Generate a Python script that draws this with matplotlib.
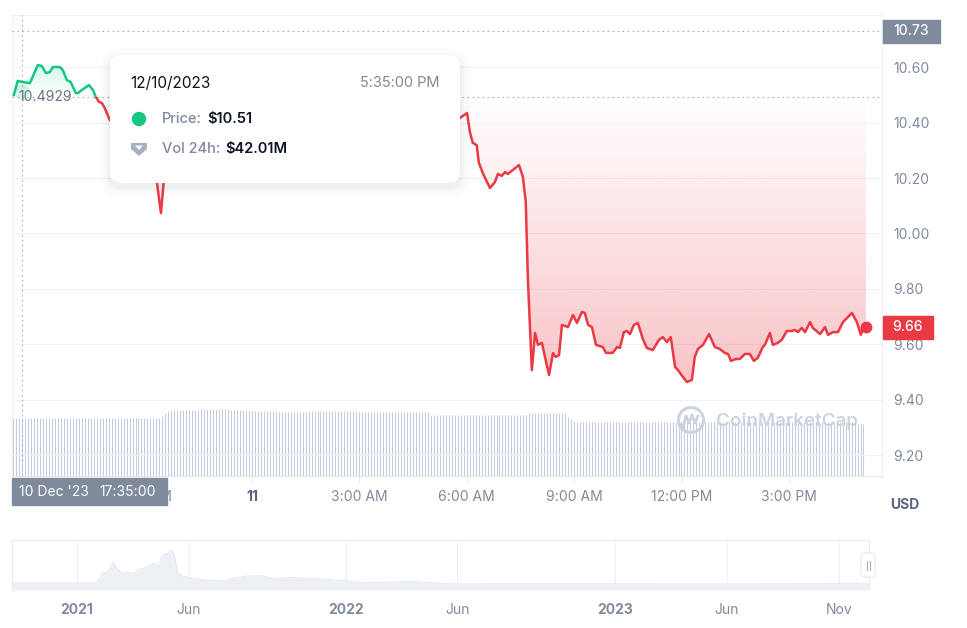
import numpy as np
import matplotlib.pyplot as plt
from matplotlib.patches import FancyBboxPatch, Rectangle, Circle, Polygon
from matplotlib.path import Path
from matplotlib.colors import to_rgb
from matplotlib.transforms import blended_transform_factory

plt.rcParams['font.family'] = ['Inter', 'DejaVu Sans']

# precio (USD) -- horas desde la medianoche del 11 dic 2023
hours = [-6.65, -6.54, -6.42, -6.20, -5.98, -5.87, -5.75, -5.64, -5.56, -5.36,
         -5.28, -5.17, -5.06, -4.92, -4.86, -4.75, -4.55, -4.44, -4.36, -4.27,
         -4.19, -4.11, -3.97, -3.69, -3.41, -3.13, -2.85, -2.65, -2.54, -2.46,
         -2.29, -1.87, -1.45, -0.89, -0.34, 0.22, 0.78, 1.34, 1.90, 2.46,
         3.02, 3.58, 4.13, 4.69, 5.25, 5.67, 5.81, 6.01, 6.09, 6.17,
         6.28, 6.34, 6.45, 6.65, 6.79, 6.87, 6.98, 7.07, 7.15, 7.46,
         7.57, 7.65, 7.71, 7.82, 7.91, 7.99, 8.10, 8.30, 8.41, 8.49,
         8.58, 8.66, 8.83, 8.97, 9.08, 9.22, 9.30, 9.39, 9.50, 9.61,
         9.80, 9.89, 10.08, 10.20, 10.28, 10.39, 10.47, 10.56, 10.67, 10.78,
         10.92, 11.03, 11.20, 11.37, 11.48, 11.59, 11.70, 11.82, 11.90, 12.04,
         12.15, 12.29, 12.37, 12.46, 12.60, 12.77, 12.93, 13.07, 13.21, 13.30,
         13.38, 13.52, 13.63, 13.77, 13.91, 14.02, 14.13, 14.27, 14.33, 14.47,
         14.55, 14.69, 14.80, 14.94, 15.08, 15.17, 15.25, 15.36, 15.45, 15.59,
         15.67, 15.87, 16.01, 16.09, 16.23, 16.37, 16.51, 16.76, 16.90, 17.01,
         17.07, 17.15]
prices = [10.500, 10.551, 10.547, 10.543, 10.608, 10.605, 10.579, 10.583, 10.601, 10.601,
          10.590, 10.554, 10.547, 10.507, 10.507, 10.518, 10.536, 10.518, 10.493, 10.475,
          10.471, 10.453, 10.410, 10.380, 10.350, 10.330, 10.300, 10.182, 10.074, 10.190,
          10.300, 10.330, 10.360, 10.380, 10.350, 10.370, 10.400, 10.380, 10.410, 10.390,
          10.420, 10.400, 10.430, 10.410, 10.400, 10.410, 10.417, 10.435, 10.366, 10.327,
          10.319, 10.255, 10.218, 10.164, 10.186, 10.215, 10.208, 10.222, 10.215, 10.247,
          10.204, 10.114, 9.832, 9.507, 9.641, 9.598, 9.605, 9.489, 9.568, 9.554,
          9.561, 9.670, 9.662, 9.706, 9.677, 9.717, 9.713, 9.670, 9.662, 9.598,
          9.590, 9.569, 9.569, 9.590, 9.587, 9.644, 9.648, 9.637, 9.670, 9.677,
          9.619, 9.587, 9.579, 9.616, 9.626, 9.608, 9.626, 9.518, 9.507, 9.482,
          9.464, 9.471, 9.554, 9.583, 9.598, 9.637, 9.590, 9.583, 9.569, 9.565,
          9.540, 9.547, 9.547, 9.565, 9.565, 9.540, 9.551, 9.590, 9.598, 9.641,
          9.598, 9.605, 9.616, 9.648, 9.648, 9.652, 9.644, 9.659, 9.644, 9.680,
          9.659, 9.637, 9.662, 9.634, 9.644, 9.644, 9.680, 9.713, 9.680, 9.634,
          9.659, 9.662]
base_price = 10.4929
high_price = 10.73
hover_hour = -6.4167   # 17:35
hover_price = 10.51

# volumen 24h (millones USD), tramos de barras de 5 minutos
vol_levels = [42.0, 43.0, 45.5, 47.0, 47.8, 48.5, 47.8, 47.0, 46.3, 47.0,
              46.3, 44.5, 45.4, 43.0, 41.0, 39.5, 38.9, 37.4]
vol_counts = [50, 1, 1, 1, 10, 10, 7, 9, 10, 17,
              24, 33, 13, 1, 1, 1, 94, 3]
vol_start = -6.667

tick_hours = [-3, 0, 3, 6, 9, 12, 15]
tick_labels = ['9:00 PM', '11', '3:00 AM', '6:00 AM', '9:00 AM', '12:00 PM', '3:00 PM']
y_ticks = [9.20, 9.40, 9.60, 9.80, 10.00, 10.20, 10.40, 10.60]

# navegador (historial completo)
nav_dates = ['2020-10-05', '2021-01-23', '2021-01-28', '2021-02-05', '2021-02-12', '2021-02-19',
             '2021-02-24', '2021-03-03', '2021-03-10', '2021-03-18', '2021-03-27', '2021-04-06',
             '2021-04-14', '2021-04-21', '2021-04-27', '2021-05-04', '2021-05-09', '2021-05-13',
             '2021-05-18', '2021-05-24', '2021-06-07', '2021-06-26', '2021-07-23', '2021-07-31',
             '2021-08-19', '2021-09-09', '2021-09-28', '2021-10-16', '2021-11-12', '2021-12-05',
             '2022-01-01', '2022-01-23', '2022-02-19', '2022-03-31', '2022-04-27', '2022-05-30',
             '2022-08-23', '2023-01-01', '2023-04-27', '2023-09-10', '2023-12-11']
nav_prices = [9.7, 9.7, 11.5, 23.5, 25.3, 39.0,
              30.4, 23.9, 25.3, 23.0, 29.0, 31.7,
              37.3, 32.2, 48.3, 50.6, 55.2, 48.3,
              23.5, 19.3, 16.6, 13.8, 12.8, 16.1,
              19.3, 19.7, 15.6, 17.5, 16.1, 14.8,
              12.8, 10.1, 10.6, 12.0, 10.1, 8.3,
              9.0, 8.7, 8.3, 8.7, 9.7]
nav_ticks = ['2021-01-01', '2021-06-01', '2022-01-01', '2022-06-01', '2023-01-01', '2023-06-01', '2023-11-01']
nav_labels = ['2021', 'Jun', '2022', 'Jun', '2023', 'Jun', 'Nov']

GREEN = '#16c784'
RED = '#ea3943'
GRAY = '#808a9d'
DARK = '#58667e'
GRID = '#eff2f5'
DOT = '#a6b0c3'

W, H = 967, 628
def rect(x0, y0, x1, y1):
    return [x0 / W, 1 - y1 / H, (x1 - x0) / W, (y1 - y0) / H]

fig = plt.figure(figsize=(W / 100, H / 100), dpi=100)
fig.patch.set_facecolor('white')

xlim = (-6.70, 17.60)
ylim = (9.1245, 10.7888)

# barras de volumen
axv = fig.add_axes(rect(12, 15, 882, 476))
vols = np.repeat(vol_levels, vol_counts)
bar_hours = vol_start + np.arange(len(vols)) * 5 / 60
axv.vlines(bar_hours, 0, vols, color='#c6cde0', lw=0.8)
axv.set_xlim(xlim)
axv.set_ylim(0, 334)
axv.axis('off')

# precio
ax = fig.add_axes(rect(12, 15, 882, 476))
ax.set_facecolor('none')
hrs = np.array(hours)
pr = np.array(prices)

below = ax.fill_between(hrs, pr, base_price, where=pr <= base_price, interpolate=True,
                        facecolor='none', edgecolor='none')
above = ax.fill_between(hrs, pr, base_price, where=pr >= base_price, interpolate=True,
                        facecolor='none', edgecolor='none')

grad = np.zeros((256, 1, 4))
grad[..., :3] = to_rgb(RED)
grad[:, 0, 3] = np.linspace(0.0, 0.30, 256)
im = ax.imshow(grad, extent=[hrs[0], hrs[-1], pr.min(), base_price], aspect='auto',
               origin='upper', zorder=2, interpolation='bilinear')
im.set_clip_path(Path.make_compound_path(*below.get_paths()), transform=ax.transData)

grad_g = np.zeros((256, 1, 4))
grad_g[..., :3] = to_rgb(GREEN)
grad_g[:, 0, 3] = np.linspace(0.18, 0.0, 256)
img = ax.imshow(grad_g, extent=[hrs[0], hrs[-1], base_price, pr.max()], aspect='auto',
                origin='upper', zorder=2, interpolation='bilinear')
img.set_clip_path(Path.make_compound_path(*above.get_paths()), transform=ax.transData)

red_line, = ax.plot(hrs, pr, color=RED, lw=1.8, zorder=5, solid_joinstyle='round')
red_line.set_clip_path(Rectangle((-20, 0), 60, base_price, transform=ax.transData))
green_line, = ax.plot(hrs, pr, color=GREEN, lw=1.8, zorder=5, solid_joinstyle='round')
green_line.set_clip_path(Rectangle((-20, base_price), 60, 5, transform=ax.transData))

ax.plot(hrs[-1], pr[-1], 'o', color=RED, ms=8.5, mec='none', zorder=6)
ax.plot(hover_hour, hover_price, 'o', color=GREEN, ms=11, alpha=0.18, mec='none', zorder=4)

dots = (0, (1.5, 3))
ax.axvline(hover_hour, color=DOT, lw=0.8, ls=dots, zorder=3)
ax.axhline(base_price, color=DOT, lw=0.8, ls=dots, zorder=3)
ax.axhline(high_price, color=DOT, lw=0.8, ls=dots, zorder=3)

trans = blended_transform_factory(ax.transAxes, ax.transData)
ax.text(0.007, base_price, f'{base_price:.4f}', transform=trans, ha='left', va='center',
        color='#6b7589', fontsize=10, zorder=7)

ax.add_patch(Rectangle((1.001, high_price - 0.0415), 0.0655, 0.083, transform=trans,
                       color=GRAY, clip_on=False, zorder=10))
ax.text(1.001 + 0.0655 / 2, high_price, f'{high_price:.2f}', transform=trans, ha='center',
        va='center', color='white', fontsize=10, fontweight='medium', zorder=11)
ax.add_patch(Rectangle((1.001, pr[-1] - 0.0415), 0.0575, 0.083, transform=trans,
                       color=RED, clip_on=False, zorder=10))
ax.text(1.001 + 0.0575 / 2, pr[-1], f'{pr[-1]:.2f}', transform=trans, ha='center',
        va='center', color='white', fontsize=10, fontweight='medium', zorder=11)

ax.set_xlim(xlim)
ax.set_ylim(ylim)
for s in ['left', 'top', 'right']:
    ax.spines[s].set_color(GRID)
    ax.spines[s].set_linewidth(0.8)
ax.spines['bottom'].set_color('#e3e7ee')
ax.spines['bottom'].set_linewidth(0.8)
ax.yaxis.tick_right()
ax.set_yticks(y_ticks, [f'{v:.2f}' for v in y_ticks])
ax.tick_params(axis='y', length=0, pad=8, labelsize=10, labelcolor=GRAY)
ax.grid(axis='y', color=GRID, lw=0.8)
ax.set_axisbelow(True)
ax.set_xticks(tick_hours, tick_labels)
ax.tick_params(axis='x', length=4, color='#e3e7ee', labelsize=10, labelcolor=GRAY, pad=6)
for lbl in ax.get_xticklabels():
    if lbl.get_text() == '11':
        lbl.set_fontweight('bold')
        lbl.set_color(DARK)

# navegador
axn = fig.add_axes(rect(12, 540, 869, 590))
nd = np.array(nav_dates, dtype='datetime64[D]')
axn.fill_between(nd, nav_prices, 0, color='#edf0f4', lw=0)
axn.plot(nd, nav_prices, color='#e3e7ee', lw=0.6)
axn.set_xlim(np.datetime64('2020-10-05'), np.datetime64('2023-12-11'))
axn.set_ylim(0, 69)
axn.set_yticks([])
axn.set_xticks(np.array(nav_ticks, dtype='datetime64[D]'), nav_labels)
axn.tick_params(axis='x', length=0, pad=9, labelsize=10, labelcolor=GRAY)
for lbl in axn.get_xticklabels():
    if lbl.get_text().isdigit():
        lbl.set_fontweight('bold')
axn.grid(axis='x', color=GRID, lw=0.8)
axn.set_axisbelow(True)
for s in ['left', 'top', 'right']:
    axn.spines[s].set_color('#e8ebf1')
    axn.spines[s].set_linewidth(0.8)
axn.spines['bottom'].set_visible(False)

# capa superior en pixeles
ov = fig.add_axes([0, 0, 1, 1], zorder=20)
ov.set_xlim(0, W)
ov.set_ylim(H, 0)
ov.patch.set_alpha(0)
ov.axis('off')

# tooltip
for grow, a in [(10, 0.015), (7, 0.02), (4, 0.025), (2, 0.03)]:
    ov.add_patch(FancyBboxPatch((110 - grow, 55 - grow + 4), 350 + 2 * grow, 128 + 2 * grow,
                                boxstyle=f'round,pad=0,rounding_size={12 + grow}',
                                fc=DARK, ec='none', alpha=a))
ov.add_patch(FancyBboxPatch((110, 55), 350, 128, boxstyle='round,pad=0,rounding_size=12',
                            fc='white', ec='none'))
ov.text(130, 83, '12/10/2023', ha='left', va='center', fontsize=11, color='#0d1421')
ov.text(440, 83, '5:35:00 PM', ha='right', va='center', fontsize=10.5, color=GRAY)
ov.add_patch(Circle((139, 119), 6.5, color=GREEN))
ov.text(162, 119, 'Price:', ha='left', va='center', fontsize=10.5, color=GRAY, fontweight='medium')
ov.text(207, 119, '$10.51', ha='left', va='center', fontsize=10.5, color='#0d1421', fontweight='semibold')
ov.add_patch(Polygon([(131, 143), (147, 143), (147, 149), (139, 156), (131, 149)],
                     closed=True, fc='#a6b0c3', ec='none'))
ov.add_patch(Polygon([(135, 145.5), (143, 145.5), (139, 150)], closed=True, fc='white', ec='none'))
ov.text(162, 149, 'Vol 24h:', ha='left', va='center', fontsize=10.5, color=GRAY, fontweight='medium')
ov.text(225, 149, '$42.01M', ha='left', va='center', fontsize=10.5, color='#0d1421', fontweight='semibold')

# etiqueta del cursor
ov.add_patch(Rectangle((12, 478), 155, 27, color=GRAY))
ov.text(19, 492, "10 Dec '23", ha='left', va='center', fontsize=10, color='white')
ov.text(99, 492, '17:35:00', ha='left', va='center', fontsize=10, color='white')

ov.text(905, 505, 'USD', ha='center', va='center', fontsize=10, color=DARK, fontweight='bold')

# marca de agua
ov.add_patch(Circle((691, 420), 12.5, fill=False, ec='#c8cfdc', lw=2.2, alpha=0.9))
ov.plot([683, 686, 689, 692, 695, 698], [427, 416, 423, 415, 423, 416], color='#c8cfdc', lw=2.0, alpha=0.9)
ov.text(716, 421, 'CoinMarketCap', ha='left', va='center', fontsize=13.5, color='#c8cfdc',
        fontweight='semibold', alpha=0.9)

# tirador del navegador
ov.add_patch(FancyBboxPatch((860, 552), 16, 26, boxstyle='round,pad=0,rounding_size=6',
                            fc=DARK, ec='none', alpha=0.06))
ov.add_patch(FancyBboxPatch((861, 553), 14, 24, boxstyle='round,pad=0,rounding_size=5',
                            fc='white', ec='#e3e7ee', lw=0.6))
ov.plot([866.5, 866.5], [561, 570], color=DOT, lw=0.8)
ov.plot([869.5, 869.5], [561, 570], color=DOT, lw=0.8)

fig.savefig('out.png', dpi=100)
